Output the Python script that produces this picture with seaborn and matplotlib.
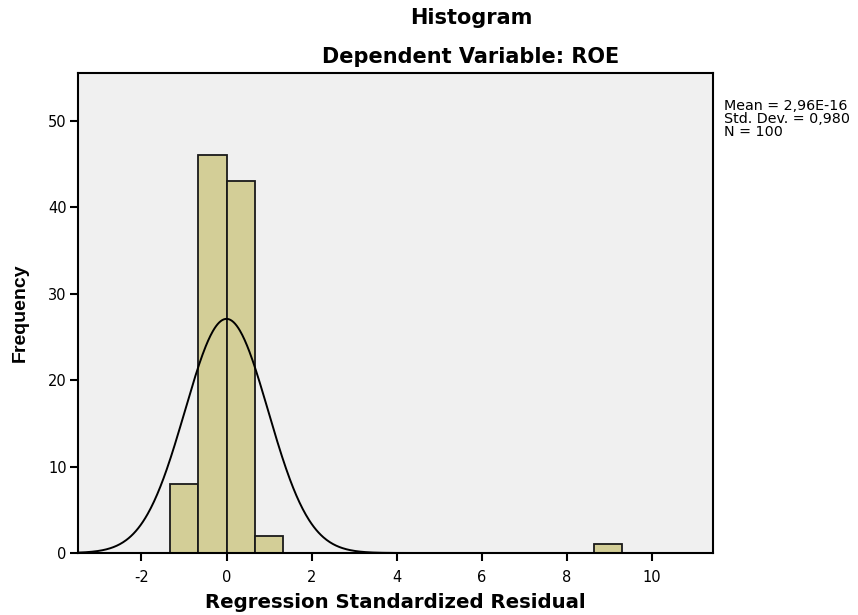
import numpy as np
import pandas as pd
import matplotlib
matplotlib.use("Agg")
import matplotlib.pyplot as plt
import seaborn as sns

# ---- data ----
bin_width = 0.665
bin_index = [-2, -1, 0, 1, 13]          # bin k covers [k*w, (k+1)*w)
counts = [8, 46, 43, 2, 1]
mean_val = 2.96e-16
std_val = 0.980
n_val = 100
x_ticks = [-2, 0, 2, 4, 6, 8, 10]
y_ticks = [0, 10, 20, 30, 40, 50]

sns.set_style("ticks")
plt.rcParams['font.family'] = ['DejaVu Sans']
plt.rcParams['axes.unicode_minus'] = False
plt.rcParams['text.color'] = 'black'
plt.rcParams['axes.labelcolor'] = 'black'
plt.rcParams['xtick.color'] = 'black'
plt.rcParams['ytick.color'] = 'black'

centers = [(k + 0.5) * bin_width for k in bin_index]
edges = [float(k * bin_width) for k in range(-2, 15)]
df = pd.DataFrame({"resid": centers, "count": counts})

fig = plt.figure(figsize=(8.58, 6.15), dpi=100)
ax = fig.add_axes([77.7/858, 1-553/615, (713-77.7)/858, (553-73)/615])
ax.set_facecolor("#f0f0f0")

sns.histplot(data=df, x="resid", weights="count", bins=edges, ax=ax,
             color="#d3ce97", alpha=1, edgecolor="#1a1a1a", linewidth=1.3)

xs = np.linspace(-3.5, 11.44, 800)
ys = n_val * bin_width / (std_val * np.sqrt(2*np.pi)) * np.exp(-0.5*((xs-mean_val)/std_val)**2)
sns.lineplot(x=xs, y=ys, ax=ax, color="black", linewidth=1.4)

ax.set_xlim(-3.5, 11.44)
ax.set_ylim(0, 55.5)
ax.set_xticks(x_ticks)
ax.set_yticks(y_ticks)
ax.tick_params(axis="both", labelsize=10.5, length=6, width=1.5, direction="out", color="black")
ax.tick_params(axis="x", pad=6)
ax.tick_params(axis="y", pad=2)
for s in ax.spines.values():
    s.set_linewidth(1.5)
    s.set_color("black")
    s.set_visible(True)

ax.set_xlabel("Regression Standardized Residual", fontsize=14.2, fontweight="bold", labelpad=6)
ax.set_ylabel("Frequency", fontsize=14, fontweight="bold", labelpad=14,
              family=['Liberation Sans', 'DejaVu Sans'])

fig.text(471/858, 1-18/615, "Histogram", ha="center", va="center", fontsize=15, fontweight="bold")
fig.text(471/858, 1-57/615, "Dependent Variable: ROE", ha="center", va="center", fontsize=15, fontweight="bold")
fig.text(724/858, 1-119/615,
         "Mean = 2,96E-16\nStd. Dev. = 0,980\nN = " + str(n_val),
         ha="left", va="center", fontsize=10.3, linespacing=0.9)

fig.savefig("out.png", dpi=100, facecolor="white")
